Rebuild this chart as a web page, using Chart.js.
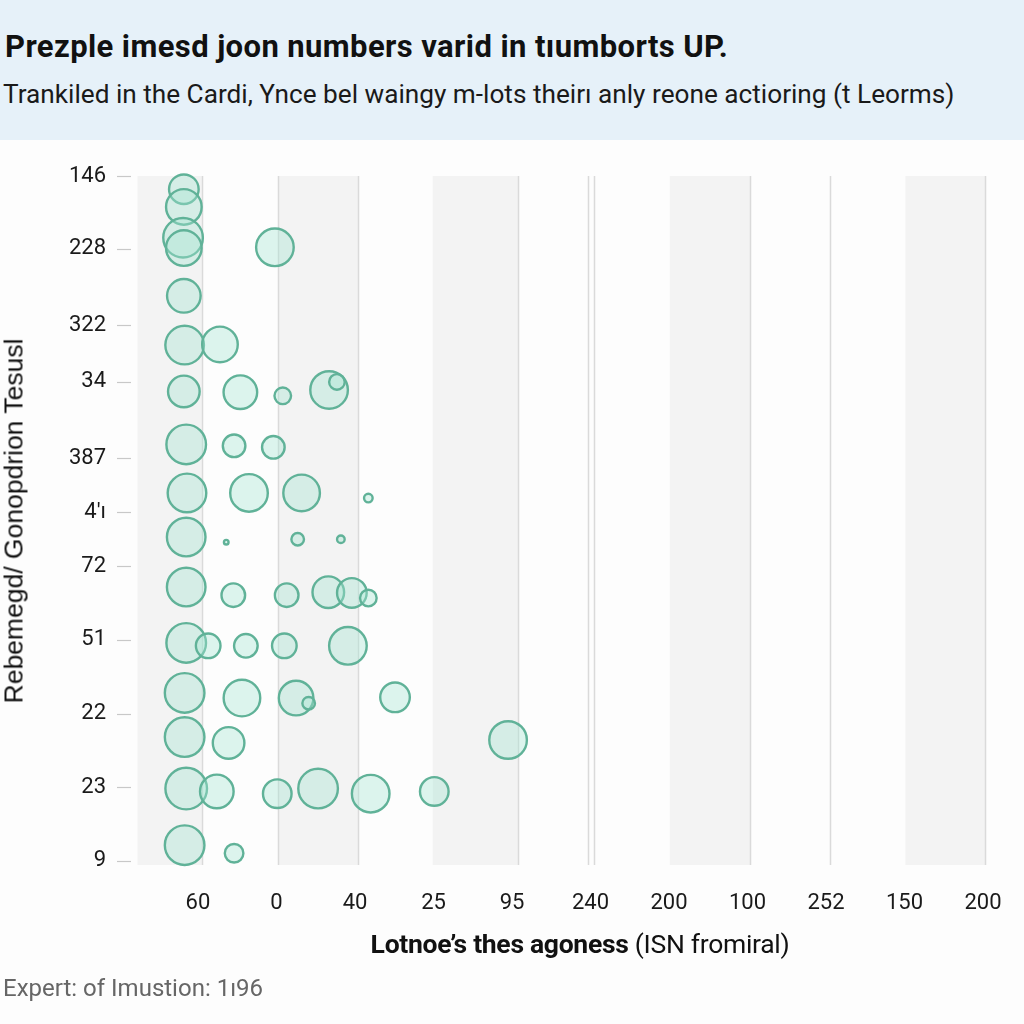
<!DOCTYPE html>
<html>
<head>
<meta charset="utf-8">
<script src="https://cdn.jsdelivr.net/npm/chart.js@4/dist/chart.umd.min.js"></script>
<style>
  html, body { margin:0; padding:0; }
  body { width:1024px; height:1024px; background:#fdfdfd; position:relative; overflow:hidden; font-family:"Liberation Sans", Arial, sans-serif; color:#1a1a1a; }
  #hdr { position:absolute; left:0; top:0; width:1024px; height:140px; background:#e6f1f9; }
  #title { position:absolute; left:5px; top:28px; font-family:Roboto, "Liberation Sans", sans-serif; font-weight:700; font-size:31px; letter-spacing:0.4px; color:#111; white-space:nowrap; }
  #subtitle { position:absolute; left:3px; top:79px; font-family:Roboto, "Liberation Sans", sans-serif; font-size:26.2px; color:#1a1a1a; white-space:nowrap; }
  #wrap { position:absolute; left:0; top:140px; width:1024px; height:884px; }
  #xtitle { position:absolute; left:136px; width:888px; top:928px; text-align:center; font-family:Roboto, "Liberation Sans", sans-serif; font-size:26.5px; color:#111; white-space:nowrap; letter-spacing:-0.3px; }
  #ytitle { position:absolute; left:14px; top:521px; transform:translate(-50%,-50%) rotate(-90deg); font-family:"Liberation Sans", Arial, sans-serif; font-size:26.5px; color:#111; white-space:nowrap; }
  #footer { position:absolute; left:3px; top:974px; font-family:Roboto, "Liberation Sans", sans-serif; font-size:24px; color:#666; white-space:nowrap; }
</style>
</head>
<body>
<div id="hdr"></div>
<div id="title">Prezple imesd joon numbers varid in tıumborts UP.</div>
<div id="subtitle">Trankiled in the Cardi, Ynce bel waingy m-lots theirı anly reone actioring (t Leorms)</div>
<div id="wrap"><canvas id="c" width="1024" height="884"></canvas></div>
<div id="ytitle">Rebemegd/ Gonopdrion Tesusl</div>
<div id="xtitle"><b>Lotnoe’s thes agoness</b> (ISN fromiral)</div>
<div id="footer">Expert: of Imustion: 1ı96</div>
<script>
// ---- data ----
const xTickLabels = ["60","0","40","25","95","240","200","100","252","150","200"];
const yTickLabels = ["146","228","322","34","387","4′ı","72","51","22","23","9"];
const yTickPositions = [0, 0.99, 2.03, 2.80, 3.84, 4.57, 5.31, 6.31, 7.31, 8.31, 9.31];

const bubbleX = [
  -0.18,-0.18,-0.19,-0.18,-0.18,-0.17,-0.18,-0.15,-0.14,-0.15,-0.15,-0.15,-0.17,-0.17,-0.15,-0.17,
  0.98,0.28,0.54,1.08,1.67,1.77,0.46,0.96,0.65,1.32,2.17,0.36,1.27,1.82,
  0.45,1.13,1.66,1.96,2.17,0.13,0.61,1.10,1.91,0.56,1.25,1.41,2.51,0.39,3.95,
  0.24,1.01,1.53,2.20,3.01,0.46
];
const bubbleY = [
  0.18,0.42,0.84,0.98,1.63,2.30,2.93,3.65,4.31,4.91,5.59,6.35,7.03,7.63,8.33,9.10,
  0.97,2.29,2.94,2.99,2.91,2.80,3.67,3.69,4.31,4.31,4.38,4.98,4.94,4.94,
  5.70,5.70,5.66,5.67,5.74,6.39,6.39,6.39,6.39,7.10,7.10,7.17,7.09,7.71,7.67,
  8.37,8.40,8.33,8.40,8.37,9.21
];
const bubbleR = [
  16,19,21,19,18,20.5,17,21,20.5,20.5,20.5,21,21,21,22,21,
  20,19,18,9.5,20,9,12.5,12.5,20,19.5,5.5,3.5,7.5,5,
  13,13,17,16,9.5,13.5,13,13.5,20,19.5,18.5,7.5,16,17,20,
  18,15.5,21,20,15.5,10.5
];

const points = bubbleX.map((x, i) => ({ x: x, y: bubbleY[i], r: bubbleR[i] - 1.2 }));

// decoration (x-scale units)
const bands = [[-0.77, 0.05], [1.02, 2.04], [2.99, 4.08], [6.01, 7.03], [9.01, 10.03]];
const vlines = [0.05, 1.02, 2.04, 4.08, 4.97, 5.04, 7.03, 8.05, 10.03];

const bgPlugin = {
  id: 'bg',
  beforeDatasetsDraw(chart) {
    const { ctx, chartArea: a, scales: { x, y } } = chart;
    ctx.save();
    ctx.fillStyle = '#f3f3f3';
    bands.forEach(([s, e]) => {
      const x0 = x.getPixelForValue(s), x1 = x.getPixelForValue(e);
      ctx.fillRect(x0, a.top, x1 - x0, a.bottom - a.top);
    });
    ctx.strokeStyle = '#dadada';
    ctx.lineWidth = 1.5;
    vlines.forEach(v => {
      const px = Math.round(x.getPixelForValue(v)) + 0.5;
      ctx.beginPath(); ctx.moveTo(px, a.top); ctx.lineTo(px, a.bottom); ctx.stroke();
    });
    // y tick dashes
    ctx.strokeStyle = '#c8c8c8';
    ctx.lineWidth = 1.2;
    yTickPositions.forEach(v => {
      const py = Math.round(y.getPixelForValue(v)) + 0.5;
      ctx.beginPath(); ctx.moveTo(a.left - 21, py); ctx.lineTo(a.left - 7, py); ctx.stroke();
    });
    ctx.restore();
  }
};

new Chart(document.getElementById('c'), {
  type: 'bubble',
  data: {
    datasets: [{
      data: points,
      backgroundColor: 'rgba(165, 228, 210, 0.38)',
      borderColor: 'rgb(96, 178, 152)',
      borderWidth: 2.4,
      clip: false
    }]
  },
  options: {
    responsive: false,
    animation: false,
    events: [],
    layout: { autoPadding: false, padding: { left: 0, right: 39, top: 36, bottom: 0 } },
    plugins: { legend: { display: false }, tooltip: { enabled: false } },
    scales: {
      x: {
        type: 'linear',
        min: -0.764, max: 10.025,
        afterBuildTicks: (s) => { s.ticks = xTickLabels.map((_, i) => ({ value: i })); },
        afterFit: (s) => { s.height = 159; s.paddingLeft = 0; s.paddingRight = 0; },
        ticks: {
          autoSkip: false, maxRotation: 0, padding: 25,
          color: '#1a1a1a',
          font: { family: 'Roboto, "Liberation Sans", sans-serif', size: 22 },
          callback: (v, i) => xTickLabels[i]
        },
        grid: { display: false, drawTicks: false },
        border: { display: false }
      },
      y: {
        type: 'linear',
        reverse: true,
        min: 0, max: 9.37,
        afterBuildTicks: (s) => { s.ticks = yTickPositions.map(v => ({ value: v })); },
        afterFit: (s) => { s.width = 138; s.paddingTop = 0; s.paddingBottom = 0; },
        ticks: {
          autoSkip: false, padding: 32,
          color: '#1a1a1a',
          font: { family: 'Roboto, "Liberation Sans", sans-serif', size: 22 },
          callback: (v, i) => yTickLabels[i]
        },
        grid: { display: false, drawTicks: false },
        border: { display: false }
      }
    }
  },
  plugins: [bgPlugin]
});
</script>
</body>
</html>
